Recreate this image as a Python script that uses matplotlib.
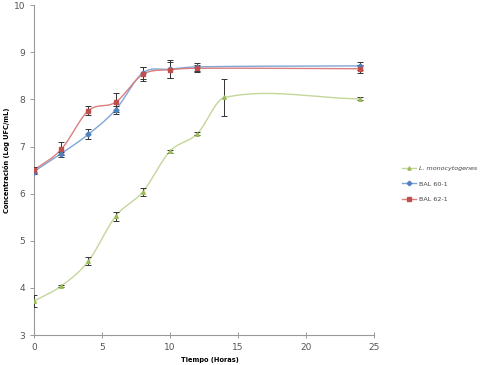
import numpy as np
import matplotlib
matplotlib.use("Agg")
import matplotlib.pyplot as plt

# Data
hours = [0, 2, 4, 6, 8, 10, 12, 14, 24]
mono = [3.72, 4.04, 4.57, 5.52, 6.04, 6.90, 7.27, 8.04, 8.01]
mono_err = [0.12, 0.03, 0.09, 0.10, 0.09, 0.03, 0.03, 0.39, 0.03]
hours_bal = [0, 2, 4, 6, 8, 10, 12, 24]
bal60 = [6.47, 6.85, 7.26, 7.78, 8.56, 8.64, 8.69, 8.71]
bal60_err = [0.06, 0.04, 0.11, 0.08, 0.12, 0.19, 0.08, 0.08]
bal62 = [6.50, 6.94, 7.76, 7.94, 8.53, 8.63, 8.66, 8.65]
bal62_err = [0.07, 0.16, 0.09, 0.20, 0.15, 0.17, 0.07, 0.08]
labels = ["L. monocytogenes", "BAL 60-1", "BAL 62-1"]


def smooth(x, y, n=40):
    x = np.asarray(x, float); y = np.asarray(y, float)
    m = np.zeros_like(y)
    m[0] = (y[1] - y[0]) / (x[1] - x[0])
    m[-1] = (y[-1] - y[-2]) / (x[-1] - x[-2])
    m[1:-1] = (y[2:] - y[:-2]) / (x[2:] - x[:-2])
    xs, ys = [], []
    for i in range(len(x) - 1):
        h = x[i + 1] - x[i]
        t = np.linspace(0, 1, n)
        h00 = 2 * t**3 - 3 * t**2 + 1
        h10 = t**3 - 2 * t**2 + t
        h01 = -2 * t**3 + 3 * t**2
        h11 = t**3 - t**2
        xs.extend(x[i] + t * h)
        ys.extend(h00 * y[i] + h10 * h * m[i] + h01 * y[i + 1] + h11 * h * m[i + 1])
    return xs, ys


fig = plt.figure(figsize=(4.86, 3.65), dpi=100)
ax = fig.add_axes([0.07, 0.082, 0.6995, 0.904])

series = [
    (hours, mono, mono_err, "#c3d69b", "#9bbb59", "^"),
    (hours_bal, bal60, bal60_err, "#7ea6d8", "#4f81bd", "D"),
    (hours_bal, bal62, bal62_err, "#d9807e", "#c0504d", "s"),
]
for (x, y, e, lc, mc, mk), lab in zip(series, labels):
    sx, sy = smooth(x, y)
    ax.plot(sx, sy, color=lc, lw=1.0, zorder=2)
    ax.errorbar(x, y, yerr=e, fmt="none", ecolor="#333333", elinewidth=0.7,
                capsize=2.2, capthick=0.7, zorder=3)
    ax.plot(x, y, linestyle="none", marker=mk, markersize=2.6, color=mc, zorder=4)
    ax.plot([], [], color=lc, marker=mk, markersize=2.3, markerfacecolor=mc,
            markeredgecolor=mc, lw=1.0, label=lab)

ax.set_xlim(0, 25)
ax.set_ylim(3, 10)
ax.set_xticks([0, 5, 10, 15, 20, 25])
ax.set_yticks([3, 4, 5, 6, 7, 8, 9, 10])
for s in ["top", "right"]:
    ax.spines[s].set_visible(False)
for s in ["left", "bottom"]:
    ax.spines[s].set_color("#999999")
    ax.spines[s].set_linewidth(0.8)
ax.tick_params(axis="both", colors="#999999", labelcolor="#555555",
               labelsize=6.5, length=3, width=0.7)
ax.tick_params(axis="x", direction="inout", length=5)
ax.set_xlabel("Tiempo (Horas)", fontsize=4.8, fontweight="bold")
ax.set_ylabel("Concentración (Log UFC/mL)", fontsize=4.8, fontweight="bold")
ax.xaxis.set_label_coords(0.518, -0.067)
ax.yaxis.set_label_coords(-0.07, 0.53)

leg = fig.legend(loc="center left", bbox_to_anchor=(0.815, 0.496), frameon=False,
                 fontsize=4.6, handlelength=2.2, handletextpad=0.5, labelspacing=1.55,
                 labelcolor="#444444")
leg.get_texts()[0].set_fontstyle("italic")

fig.savefig("out.png", dpi=100)
